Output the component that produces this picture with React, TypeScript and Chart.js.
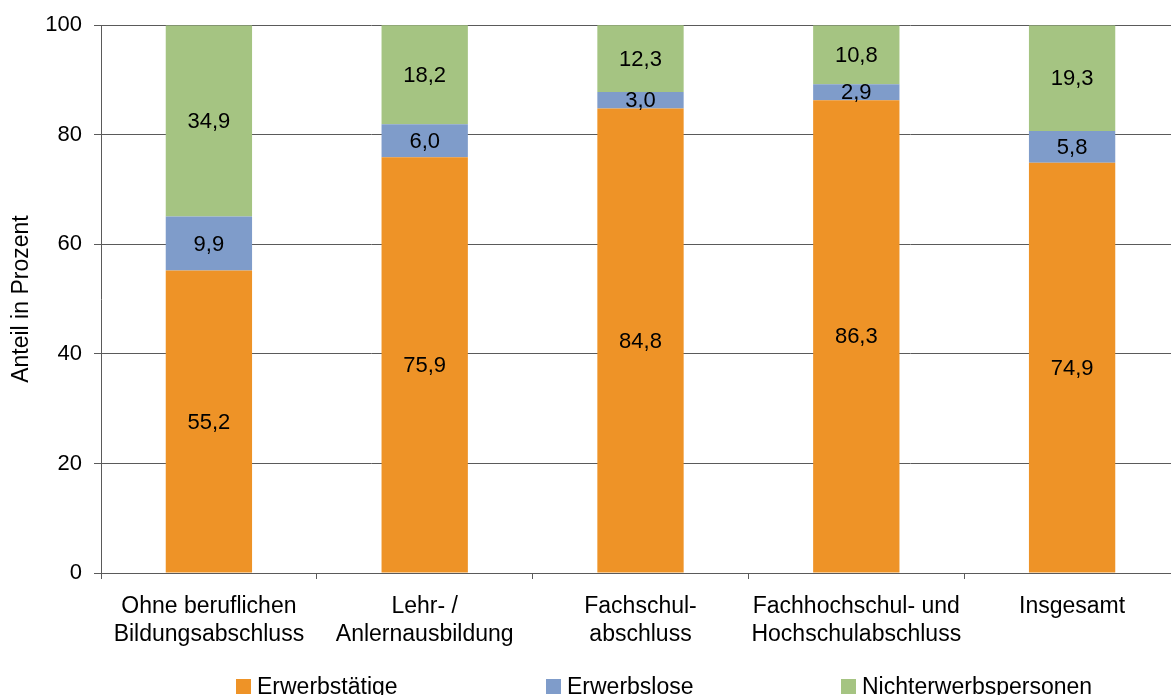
import React, { useEffect, useRef } from "react";
import { Chart, registerables } from "chart.js";

Chart.register(...registerables);

const categories: string[][] = [
  ["Ohne beruflichen", "Bildungsabschluss"],
  ["Lehr- /", "Anlernausbildung"],
  ["Fachschul-", "abschluss"],
  ["Fachhochschul- und", "Hochschulabschluss"],
  ["Insgesamt"],
];

const seriesNames = ["Erwerbstätige", "Erwerbslose", "Nichterwerbspersonen"];
const erwerbstaetige = [55.2, 75.9, 84.8, 86.3, 74.9];
const erwerbslose = [9.9, 6.0, 3.0, 2.9, 5.8];
const nichterwerbspersonen = [34.9, 18.2, 12.3, 10.8, 19.3];
const seriesColors = ["#EE9327", "#7F9CCA", "#A5C482"];

const yTicks = [0, 20, 40, 60, 80, 100];
const yTitle = "Anteil in Prozent";

const FONT = "'Liberation Sans', Arial, sans-serif";
const GRID = "#5a5a5a";

const fmt = (v: number) => v.toFixed(1).replace(".", ",");

const dataLabelPlugin = {
  id: "dataLabels",
  afterDatasetsDraw(chart: any) {
    const ctx = chart.ctx;
    ctx.save();
    ctx.font = `22px ${FONT}`;
    ctx.fillStyle = "#000";
    ctx.textAlign = "center";
    ctx.textBaseline = "middle";
    chart.data.datasets.forEach((ds: any, di: number) => {
      const meta = chart.getDatasetMeta(di);
      meta.data.forEach((el: any, i: number) => {
        const v = ds.data[i];
        const top = Math.max(el.y, chart.chartArea.top);
        const y = (top + el.base) / 2;
        ctx.fillText(fmt(v), el.x, y + 1);
      });
    });
    ctx.restore();
  },
};

const legendPlugin = {
  id: "customLegend",
  afterDraw(chart: any) {
    const ctx = chart.ctx;
    const xs = [236, 546, 841];
    ctx.save();
    ctx.font = `23px ${FONT}`;
    ctx.textAlign = "left";
    ctx.textBaseline = "alphabetic";
    chart.data.datasets.forEach((ds: any, i: number) => {
      ctx.fillStyle = ds.backgroundColor;
      ctx.fillRect(xs[i], 679, 15, 15);
      ctx.fillStyle = "#000";
      ctx.fillText(ds.label, xs[i] + 21, 694);
    });
    ctx.restore();
  },
};

export default function App() {
  const ref = useRef<HTMLCanvasElement | null>(null);
  useEffect(() => {
    if (!ref.current) return;
    const datasets = [erwerbstaetige, erwerbslose, nichterwerbspersonen].map((d, i) => ({
      label: seriesNames[i],
      data: d,
      backgroundColor: seriesColors[i],
      borderWidth: 0,
      barPercentage: 0.4,
      categoryPercentage: 1.0,
    }));
    const chart = new Chart(ref.current, {
      type: "bar",
      data: { labels: categories, datasets },
      options: {
        animation: false,
        responsive: false,
        devicePixelRatio: 1,
        layout: { padding: { top: 25, left: 0, right: 0, bottom: 0 } },
        plugins: { legend: { display: false }, tooltip: { enabled: false } },
        scales: {
          x: {
            stacked: true,
            afterFit(scale: any) {
              scale.height = 122;
            },
            grid: {
              offset: true,
              drawOnChartArea: false,
              drawTicks: true,
              tickLength: 6,
              color: GRID,
            },
            border: { color: GRID, width: 1 },
            ticks: {
              color: "#000",
              padding: 14,
              maxRotation: 0,
              autoSkip: false,
              font: { family: FONT, size: 23, lineHeight: 1.2 },
            },
          },
          y: {
            stacked: true,
            min: 0,
            max: 100,
            afterFit(scale: any) {
              scale.width = 101;
            },
            afterBuildTicks(scale: any) {
              scale.ticks = yTicks.map((v) => ({ value: v }));
            },
            grid: { color: GRID, tickLength: 7, lineWidth: 1 },
            border: { color: GRID, width: 1 },
            ticks: {
              color: "#000",
              padding: 12,
              font: { family: FONT, size: 22 },
            },
            title: {
              display: true,
              text: yTitle,
              color: "#000",
              padding: { top: 8, bottom: 0 },
              font: { family: FONT, size: 23, lineHeight: 1.2 },
            },
          },
        },
      },
      plugins: [dataLabelPlugin, legendPlugin],
    });
    return () => chart.destroy();
  }, []);

  return (
    <div
      style={{
        position: "fixed",
        left: 0,
        top: 0,
        width: 1171,
        height: 695,
        overflow: "hidden",
        background: "#fff",
      }}
    >
      <canvas ref={ref} width={1180} height={695} style={{ display: "block" }} />
    </div>
  );
}
